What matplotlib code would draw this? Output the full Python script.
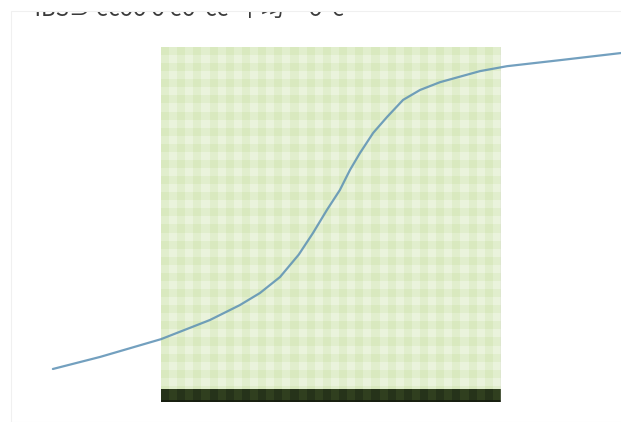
import numpy as np
import matplotlib.pyplot as plt
from matplotlib.patches import Rectangle
from matplotlib.colors import ListedColormap

# curve (square spans x 0..10, y 0..100)
x_vals = [-3.18, -1.79, 0.0, 1.44, 2.32, 2.91, 3.50, 4.05, 4.47, 4.88,
          5.26, 5.56, 5.85, 6.24, 6.65, 7.12, 7.62, 8.21, 9.38, 10.18,
          11.74, 13.53]
y_vals = [9.3, 12.7, 17.7, 23.1, 27.3, 30.7, 35.2, 41.5, 47.6, 54.1,
          59.7, 65.4, 70.1, 75.8, 80.3, 85.1, 87.9, 90.1, 93.2, 94.6,
          96.3, 98.3]
title_text = "ㅡIBS⊃ ecoo o eo  ce  平均ㅡ o  e"

fig = plt.figure(figsize=(6.21, 4.22), dpi=100)

# clipped title: white strip over its top half
t = fig.text(14/621, 1 - 16/422, title_text, fontsize=16, color='#3a3a3a',
             va='baseline', family=['Noto Sans CJK KR', 'DejaVu Sans'],
             zorder=1)
cover = Rectangle((0, 1 - 11/422), 1, 11/422, transform=fig.transFigure,
                  facecolor='white', edgecolor='none', zorder=5)
fig.patches.append(cover)
frame = Rectangle((11/621, 0.0), 1.0, 1 - 11/422, transform=fig.transFigure,
                  fill=False, edgecolor='#f0f0f0', lw=0.8, zorder=6)
fig.patches.append(frame)

ax = fig.add_axes([161/621, 20/422, 340/621, 355/422])
ax.set_xlim(0, 10)
ax.set_ylim(0, 100)

# gingham background
nx, ny = 42, 44
ii, jj = np.meshgrid(np.arange(nx), np.arange(ny))
plaid = (ii % 2) + (jj % 2)
ax.imshow(plaid, extent=(0, 10, 0, 100), aspect='auto', zorder=0,
          cmap=ListedColormap(['#d9e9bf', '#e1eecd', '#eaf3dc']),
          interpolation='antialiased')

# dark base band
band = (ii[:3, :] % 2)
ax.imshow(band, extent=(0, 10, 0, 3.4), aspect='auto', zorder=1,
          cmap=ListedColormap(['#26331a', '#303f1f']),
          interpolation='antialiased')
ax.axhline(0.3, color='#151a0e', lw=1.2, zorder=2)
ax.axvline(10, color='#cfcfcf', lw=1.0, zorder=2)

ax.plot(x_vals, y_vals, color='#5b90b4', lw=1.6, alpha=0.85,
        clip_on=False, zorder=3, solid_capstyle='round',
        solid_joinstyle='round')

for s in ax.spines.values():
    s.set_visible(False)
ax.set_xticks([])
ax.set_yticks([])

fig.savefig('out.png', dpi=100)
